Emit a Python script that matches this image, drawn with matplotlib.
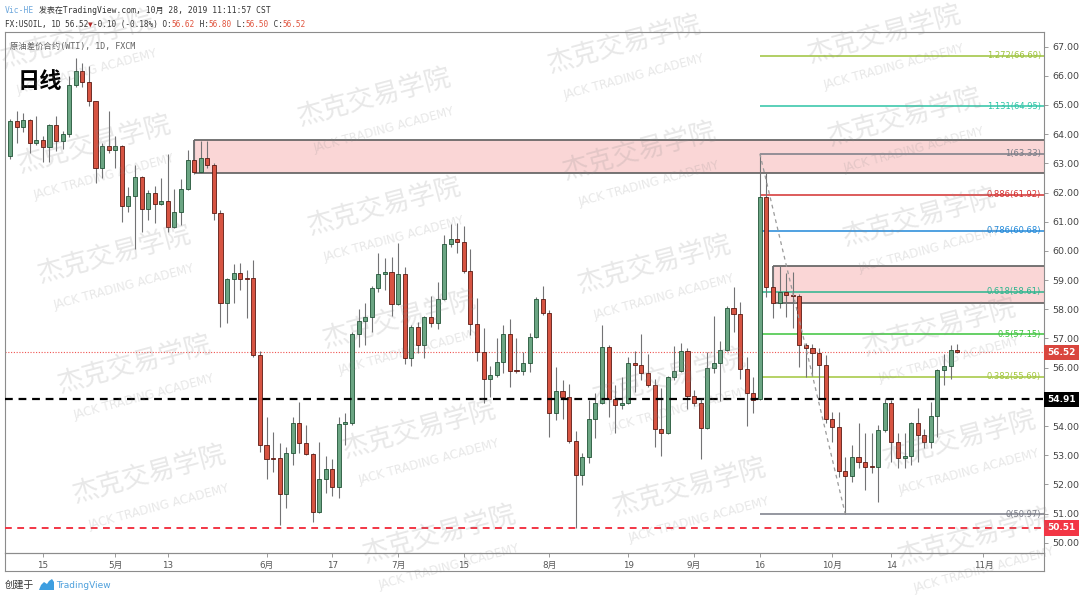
import matplotlib
matplotlib.use('Agg')
import matplotlib.pyplot as plt
import matplotlib.transforms as mtransforms
from matplotlib.patches import Polygon
import numpy as np
import pandas as pd

# FX:USOIL daily bars, 2019-04-08 .. 2019-10-28 (no bar on Good Friday 2019-04-19)
opens = [63.26, 64.46, 64.24, 64.48, 63.70, 63.80, 63.55, 64.31, 63.76, 64.00,
         65.68, 66.18, 65.77, 65.12, 62.85, 63.60, 63.46, 63.60, 61.55, 61.88,
         62.52, 61.43, 62.00, 61.61, 61.71, 60.81, 61.32, 62.11, 63.12, 62.69,
         63.18, 62.95, 61.31, 58.21, 59.03, 59.23, 59.06, 59.06, 56.43, 53.35,
         52.89, 52.91, 51.67, 53.06, 54.09, 53.43, 53.03, 51.07, 52.17, 52.52,
         51.92, 54.07, 54.11, 57.15, 57.61, 57.75, 58.74, 59.20, 59.29, 58.17,
         59.21, 56.34, 57.41, 56.78, 57.75, 57.54, 58.34, 60.24, 60.41, 60.32,
         59.32, 57.49, 56.55, 55.61, 55.75, 56.21, 57.15, 55.92, 55.90, 56.17,
         57.06, 58.34, 57.86, 54.46, 55.21, 54.98, 53.50, 52.32, 52.93, 54.23,
         54.78, 56.72, 54.92, 54.72, 54.80, 56.17, 56.09, 55.83, 55.41, 53.89,
         53.77, 55.67, 55.90, 56.58, 55.03, 54.78, 53.92, 55.98, 56.17, 56.61,
         58.03, 57.84, 55.94, 55.12, 54.92, 61.84, 58.78, 58.23, 58.60, 58.48,
         58.46, 56.78, 56.66, 56.51, 56.09, 54.23, 53.96, 52.47, 52.29, 52.93,
         52.78, 52.61, 52.61, 53.87, 54.80, 53.46, 52.89, 52.97, 54.09, 53.69,
         53.46, 54.34, 55.92, 56.06, 56.62]
highs = [64.51, 64.80, 64.72, 64.51, 64.63, 63.94, 64.35, 64.63, 64.12, 65.98,
         66.60, 66.43, 66.32, 65.14, 63.69, 64.78, 63.92, 63.63, 62.20, 62.95,
         62.55, 62.09, 62.23, 62.49, 63.33, 62.11, 62.46, 63.46, 63.80, 63.78,
         63.78, 63.00, 61.40, 59.06, 59.54, 59.58, 59.35, 59.69, 56.58, 54.32,
         53.81, 53.43, 53.29, 54.32, 54.84, 54.04, 53.06, 53.46, 52.97, 52.86,
         54.32, 54.44, 57.23, 58.00, 58.23, 58.80, 59.94, 59.75, 59.80, 60.28,
         59.46, 57.46, 57.58, 57.77, 58.46, 58.95, 60.55, 60.92, 60.95, 60.85,
         60.06, 58.38, 57.35, 56.04, 57.00, 57.46, 57.66, 57.01, 56.55, 57.18,
         58.43, 58.80, 57.98, 56.03, 55.58, 55.44, 53.82, 53.07, 54.89, 55.12,
         57.46, 56.78, 55.41, 55.67, 56.38, 56.58, 57.15, 56.47, 55.60, 55.29,
         55.72, 56.74, 56.86, 56.66, 55.23, 54.95, 56.55, 57.77, 56.93, 58.11,
         58.75, 58.26, 56.36, 55.67, 63.33, 62.66, 59.49, 59.49, 59.23, 59.29,
         58.52, 56.86, 56.81, 56.66, 56.44, 54.49, 54.49, 52.95, 53.35, 54.09,
         53.75, 53.75, 54.04, 54.95, 54.89, 53.77, 53.77, 54.15, 54.61, 53.89,
         54.84, 55.95, 56.47, 56.78, 56.80]
lows = [63.14, 63.69, 64.06, 63.35, 63.63, 63.06, 63.06, 63.44, 63.48, 63.90,
        65.63, 65.63, 64.95, 62.32, 62.49, 63.35, 62.83, 61.00, 61.32, 60.06,
        60.66, 61.06, 60.95, 61.58, 60.66, 60.77, 60.89, 62.09, 62.64, 62.66,
        62.83, 61.06, 57.41, 57.52, 58.21, 58.66, 57.70, 56.38, 53.12, 52.17,
        52.44, 50.60, 51.18, 52.66, 53.09, 53.01, 50.72, 51.01, 51.69, 51.60,
        51.52, 53.35, 54.05, 56.70, 56.78, 57.23, 58.60, 58.66, 57.77, 58.15,
        56.13, 56.06, 56.51, 56.32, 57.41, 57.31, 58.32, 60.15, 59.94, 59.23,
        57.12, 56.24, 54.78, 55.00, 55.69, 55.81, 55.35, 55.83, 55.75, 55.86,
        57.03, 57.81, 53.64, 54.21, 54.23, 53.41, 50.51, 51.98, 52.72, 53.58,
        54.76, 54.30, 53.77, 54.57, 54.76, 55.18, 55.58, 55.35, 53.29, 52.97,
        53.73, 55.58, 55.86, 54.57, 54.67, 52.86, 53.89, 55.81, 54.87, 56.58,
        57.23, 55.60, 54.00, 54.46, 54.89, 58.43, 57.69, 58.03, 57.75, 57.35,
        56.03, 55.67, 55.70, 54.92, 54.12, 53.47, 52.27, 50.97, 52.09, 52.55,
        51.80, 52.38, 51.41, 53.81, 52.78, 52.55, 52.55, 52.67, 52.78, 53.24,
        53.24, 53.64, 55.41, 55.60, 56.50]
closes = [64.46, 64.24, 64.48, 63.69, 63.80, 63.55, 64.31, 63.76, 64.00, 65.68,
          66.18, 65.77, 65.12, 62.85, 63.60, 63.46, 63.60, 61.55, 61.88, 62.52,
          61.43, 62.00, 61.61, 61.71, 60.81, 61.32, 62.11, 63.12, 62.69, 63.18,
          62.95, 61.31, 58.21, 59.03, 59.23, 59.03, 59.04, 56.43, 53.35, 52.86,
          52.87, 51.67, 53.06, 54.09, 53.43, 53.03, 51.07, 52.17, 52.52, 51.92,
          54.07, 54.15, 57.15, 57.61, 57.75, 58.74, 59.20, 59.29, 58.17, 59.21,
          56.34, 57.41, 56.78, 57.75, 57.54, 58.34, 60.24, 60.41, 60.32, 59.32,
          57.49, 56.55, 55.61, 55.75, 56.21, 57.15, 55.90, 55.90, 56.17, 57.06,
          58.34, 57.86, 54.46, 55.21, 54.98, 53.50, 52.32, 52.93, 54.23, 54.78,
          56.72, 54.92, 54.72, 54.80, 56.17, 56.09, 55.83, 55.41, 53.89, 53.77,
          55.67, 55.90, 56.58, 55.03, 54.78, 53.92, 55.98, 56.17, 56.61, 58.03,
          57.84, 55.94, 55.12, 54.89, 61.84, 58.78, 58.23, 58.60, 58.48, 58.46,
          56.78, 56.66, 56.51, 56.09, 54.23, 53.96, 52.47, 52.29, 52.93, 52.78,
          52.59, 52.60, 53.87, 54.80, 53.46, 52.89, 52.97, 54.09, 53.69, 53.46,
          54.34, 55.92, 56.06, 56.62, 56.52]

first_day = '2019-04-08'
missing_day = '2019-04-19'

tick_dates = ['2019-04-15', '2019-05-01', '2019-05-13', '2019-06-03', '2019-06-17',
              '2019-07-01', '2019-07-15', '2019-08-01', '2019-08-19', '2019-09-02',
              '2019-09-16', '2019-10-01', '2019-10-14', '2019-11-01']
tick_labels = ['15', '5月', '13', '6月', '17', '7月', '15', '8月', '19', '9月',
               '16', '10月', '14', '11月']
# 55.00 is hidden behind the 54.91 tag in the original
price_ticks = [50, 51, 52, 53, 54, 56, 57, 58, 59, 60, 61, 62, 63, 64, 65, 66, 67]

# fibonacci retracement drawn from the 16 Sep high to the 3 Oct low
fib_high_date, fib_high = '2019-09-16', 63.33
fib_low_date, fib_low = '2019-10-03', 50.97
fib_levels = ['1.272', '1.131', '1', '0.886', '0.786', '0.618', '0.5', '0.382', '0']
fib_colors = ['#9dc23b', '#2ec4a6', '#787b86', '#d32f2f', '#2188d9', '#2bb58e',
              '#3cc43c', '#a2c63c', '#787b86']

# supply zones (start date, top, bottom)
zone_dates = ['2019-05-17', '2019-09-18']
zone_tops = [63.80, 59.50]
zone_bottoms = [62.67, 58.20]

last_price = 56.52
black_level = 54.91
red_level = 50.51

W, H = 1080, 600
fig = plt.figure(figsize=(W / 100, H / 100), dpi=100)
fig.patch.set_facecolor('white')

def fx(px):
    return px / W

def fy(py):
    return 1 - py / H

mono = ['DejaVu Sans Mono', 'Noto Sans CJK SC']
cjk = ['Noto Sans CJK SC', 'DejaVu Sans']
sans = ['DejaVu Sans', 'Noto Sans CJK SC']

ax = fig.add_axes([fx(5), 47 / H, 1039 / W, 521 / H])
strip = fig.add_axes([fx(5), 29 / H, 1039 / W, 18 / H])
strip.set_facecolor('none')
strip.set_xticks([])
strip.set_yticks([])
for s in strip.spines.values():
    s.set_color('#8c8c8c')
    s.set_linewidth(0.8)

days = pd.bdate_range(first_day, '2019-11-29')
days = days[days != pd.Timestamp(missing_day)]

def pos(d):
    return days.get_loc(pd.Timestamp(d))

o = np.array(opens)
hh = np.array(highs)
ll = np.array(lows)
c = np.array(closes)
x = np.arange(len(c))
up = c >= o

xl, xr = -0.76, 157.2
ax.set_xlim(xl, xr)
ax.set_ylim(49.65, 67.50)

# candles
body_lo = np.minimum(o, c)
body_h = np.maximum(np.abs(c - o), 0.025)
ax.vlines(x, ll, hh, color='#737375', lw=0.8, zorder=3)
ax.bar(x[up], body_h[up], bottom=body_lo[up], width=0.62, color='#6ba583',
       edgecolor='#225437', linewidth=0.6, zorder=4)
ax.bar(x[~up], body_h[~up], bottom=body_lo[~up], width=0.62, color='#d75442',
       edgecolor='#5b1a13', linewidth=0.6, zorder=4)

# zones
for d, top, bot in zip(zone_dates, zone_tops, zone_bottoms):
    x0 = pos(d)
    ax.fill_between([x0, xr], bot, top, color='#fad6d6', lw=0, zorder=1)
    ax.hlines([top, bot], x0, xr, color='#5e5e5e', lw=1.2, zorder=2)
    ax.vlines(x0, bot, top, color='#5e5e5e', lw=1.2, zorder=2)

# fibonacci levels
fx0 = pos(fib_high_date)
lab_tr = mtransforms.blended_transform_factory(ax.transAxes, ax.transData)
for name, col in zip(fib_levels, fib_colors):
    p = fib_low + float(name) * (fib_high - fib_low)
    ax.hlines(p, fx0, xr, color=col, lw=1.1, zorder=2)
    ax.text(0.997, p, f'{name}({p:.2f})', transform=lab_tr, ha='right', va='center',
            fontsize=6, color=col, family=sans, zorder=6)
ax.plot([fx0, pos(fib_low_date)], [fib_high, fib_low], color='#9a9a9a', lw=0.9,
        ls=(0, (3, 3)), zorder=5)

# horizontal levels
ax.axhline(last_price, color='#ef5350', lw=0.8, ls=(0, (1, 1.5)), zorder=2)
ax.axhline(black_level, color='black', lw=1.6, dashes=(3.5, 2.6), zorder=5)
ax.axhline(red_level, color='#f23645', lw=1.4, dashes=(3.5, 2.8), zorder=5)

# axes styling
for s in ax.spines.values():
    s.set_color('#8c8c8c')
    s.set_linewidth(0.8)
ax.set_yticks(price_ticks)
ax.yaxis.set_major_formatter('{x:.2f}')
ax.tick_params(axis='y', left=False, right=True, labelleft=False, labelright=True,
               length=3, width=0.6, color='#8c8c8c', labelsize=6.8, labelcolor='#444444', pad=3)
ax.set_xticks([pos(d) for d in tick_dates])
ax.set_xticklabels(tick_labels)
ax.tick_params(axis='x', length=3, width=0.6, color='#8c8c8c', labelsize=6.3,
               labelcolor='#555555', pad=3)
for lbl in ax.get_xticklabels():
    lbl.set_fontfamily(sans)

# price tags on the right axis
for p, col in [(last_price, '#d9463e'), (black_level, '#000000'), (red_level, '#f23645')]:
    ax.text(1.003, p, f'{p:.2f}', transform=lab_tr, ha='left', va='center', fontsize=6.5,
            fontweight='bold', color='white', family=sans, zorder=10,
            bbox=dict(boxstyle='square,pad=0.38', fc=col, ec='none'))

# chart titles
ax.text(0.005, 67.02, '原油差价合约(WTI), 1D, FXCM', fontsize=6, color='#606060',
        family=mono, va='center', zorder=7)
ax.text(0.012, 0.905, '日线', transform=ax.transAxes, fontsize=16, fontweight='bold',
        color='black', family=cjk, va='center', zorder=7)

def chain(x0, y0, parts, size, family):
    t = fig.text(x0, y0, parts[0][0], color=parts[0][1], fontsize=size, family=family,
                 va='bottom', ha='left')
    for s, col in parts[1:]:
        t = ax.annotate(s, xy=(1, 0), xycoords=t, va='bottom', ha='left', color=col,
                        fontsize=size, family=family, annotation_clip=False)
    return t

dark = '#333333'
red = '#e0533d'
chain(fx(5), fy(15), [('Vic-HE', '#6fa8dc'),
                      (' 发表在TradingView.com, 10月 28, 2019 11:11:57 CST', dark)], 5.8, mono)
chain(fx(5), fy(29), [('FX:USOIL, 1D 56.52', dark), ('▼', '#b71c1c'),
                      ('-0.10 (-0.18%) O:', dark), ('56.62', red), (' H:', dark),
                      ('56.80', red), (' L:', dark), ('56.50', red), (' C:', dark),
                      ('56.52', red)], 5.6, mono)

# footer
fig.text(fx(5), fy(585), '创建于', fontsize=7, color=dark, family=cjk, va='center')
logo = [(39, 590), (41, 585), (44, 582), (47, 584), (49, 581), (52, 579), (54, 582),
        (54, 590)]
fig.add_artist(Polygon([(fx(a), fy(b)) for a, b in logo], closed=True,
                       transform=fig.transFigure, fc='#3d9ee0', ec='none'))
fig.text(fx(56), fy(585), 'TradingView', fontsize=6.5, color='#4ea0dc', family=sans,
         va='center')

# watermarks
wm = [(78, 40), (95, 145), (115, 255), (135, 365), (150, 475),
      (375, 98), (385, 207), (400, 320), (420, 430), (440, 535),
      (625, 45), (640, 152), (655, 265), (670, 378), (690, 488),
      (885, 35), (905, 118), (920, 218), (940, 328), (960, 440), (975, 538)]
for a, b in wm:
    fig.text(fx(a), fy(b), '杰克交易学院', fontsize=19, color='#8a8a8a', alpha=0.2,
             family=cjk, rotation=15, ha='center', va='center', rotation_mode='anchor', zorder=20)
    fig.text(fx(a + 9), fy(b + 32), 'JACK TRADING ACADEMY', fontsize=8.5, color='#8a8a8a',
             alpha=0.2, family=sans, rotation=15, ha='center', va='center',
             rotation_mode='anchor', zorder=20)

fig.savefig('out.png', dpi=100)
